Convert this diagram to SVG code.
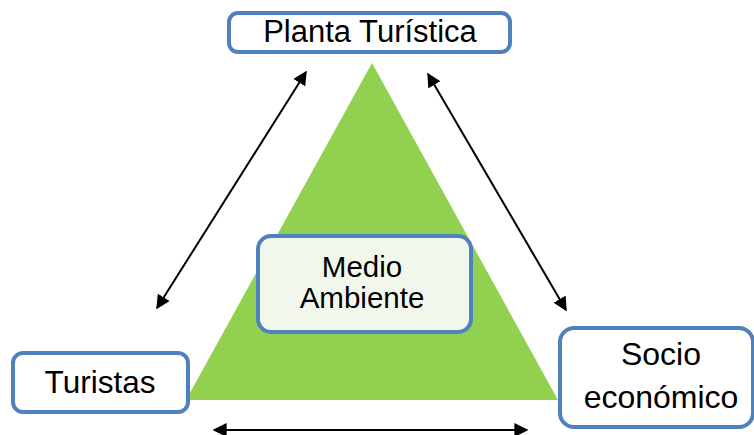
<svg xmlns="http://www.w3.org/2000/svg" width="754" height="435" viewBox="0 0 754 435">
<style>
.box{fill:#ffffff;stroke:#4F81BD;stroke-width:4}
.t{font-family:"Liberation Sans",Arial,sans-serif;fill:#000;text-anchor:middle}
.c{stroke:#000;stroke-width:2;fill:none;marker-start:url(#ah);marker-end:url(#ah)}
</style>
<defs>
<marker id="ah" viewBox="0 0 10 10" refX="9" refY="5" markerWidth="7" markerHeight="7" orient="auto-start-reverse" markerUnits="strokeWidth">
<path d="M0,0 L10,5 L0,10 z" fill="#000"/>
</marker>
</defs>
<rect width="754" height="435" fill="#ffffff"/>
<g id="triangle">
<polygon points="372,63 186,400 558,400" fill="#92D050"/>
</g>
<g id="connectors">
<line class="c" x1="157" y1="308" x2="306" y2="72"/>
<line class="c" x1="428" y1="74" x2="566" y2="310"/>
<line class="c" x1="214" y1="430" x2="527" y2="430"/>
</g>
<g id="planta">
<rect class="box" x="229" y="13" width="281" height="39" rx="9"/>
<text class="t" x="370" y="42" font-size="31">Planta Turística</text>
</g>
<g id="turistas">
<rect class="box" x="13" y="353" width="175" height="59" rx="10"/>
<text class="t" x="100" y="393" font-size="31.5">Turistas</text>
</g>
<g id="socio">
<rect class="box" x="560" y="328" width="193" height="99" rx="14"/>
<text class="t" x="661" y="365" font-size="32">Socio</text>
<text class="t" x="661" y="408" font-size="32">económico</text>
</g>
<g id="medio">
<rect x="258" y="236" width="213" height="96" rx="13" fill="#F2F7EC" stroke="#4F81BD" stroke-width="4"/>
<text class="t" x="362" y="277" font-size="29.5">Medio</text>
<text class="t" x="362" y="308" font-size="29.5">Ambiente</text>
</g>
</svg>
